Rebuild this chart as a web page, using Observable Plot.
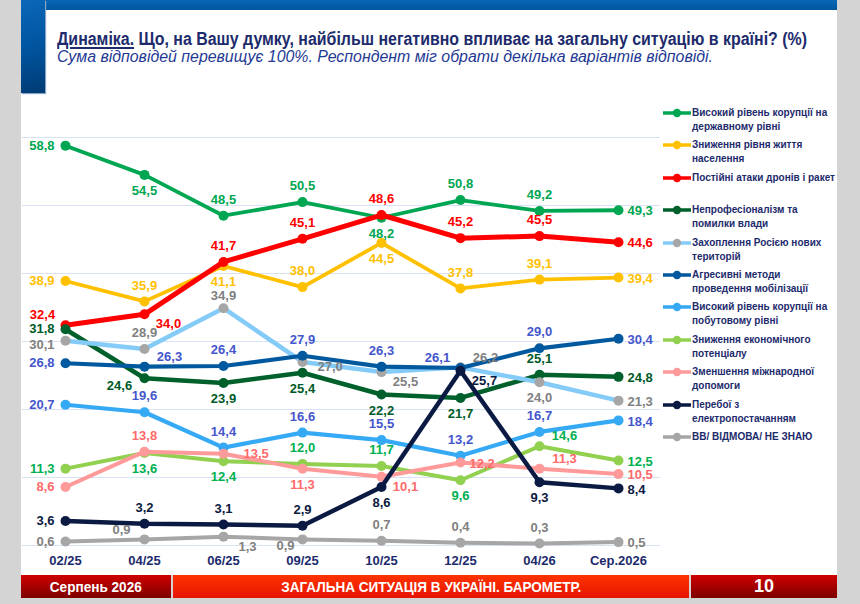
<!DOCTYPE html>
<html>
<head>
<meta charset="utf-8">
<script src="https://cdn.jsdelivr.net/npm/d3@7"></script>
<script src="https://cdn.jsdelivr.net/npm/@observablehq/plot@0.6"></script>
<style>
  html, body { margin: 0; padding: 0; }
  body { width: 860px; height: 604px; background: #d4d4d4; overflow: hidden; font-family: "Liberation Sans", Arial, sans-serif; }
  #page { position: relative; width: 860px; height: 604px; }
  .abs { position: absolute; }
  #panel { left: 21px; top: 0; width: 816px; height: 575px; background: #fff; }
  #topbar { left: 21px; top: 0; width: 816px; height: 10px; background: linear-gradient(#0a66b4, #00569f); }
  #sidebar { left: 21px; top: 0; width: 24px; height: 93px; background: linear-gradient(160deg, #0a68ba 0%, #00529c 55%, #003a72 100%); box-shadow: 1px 1px 1px #8aa6c6; }
  .fit { white-space: nowrap; display: inline-block; transform-origin: 0 50%; }
  .footer .fit { transform-origin: 50% 50%; }
  #title { left: 57px; top: 29px; font: bold 18px "Liberation Sans Narrow", "Arial Narrow", "Liberation Sans", Arial, sans-serif; color: #1d2b6c; }
  #title u { text-decoration-thickness: 2px; text-underline-offset: 2px; }
  #subtitle { left: 57px; top: 48px; font: italic 16px "Liberation Sans Narrow", "Arial Narrow", "Liberation Sans", Arial, sans-serif; color: #1f3a94; }
  #chart { left: 0; top: 0; }
  .footer { top: 575px; height: 23px; color: #fff; font: bold 15px "Liberation Sans Narrow", "Arial Narrow", "Liberation Sans", Arial, sans-serif; display: flex; align-items: center; justify-content: center; }
  #f1 { left: 21px; width: 150px; background: linear-gradient(#cf0000, #7c0000); }
  #f2 { left: 173px; width: 516px; background: linear-gradient(#ff3300, #e61400); }
  #f3 { left: 691px; width: 146px; background: linear-gradient(#cf0000, #7c0000); font-size: 18px; }
  .leg { position: absolute; left: 663px; width: 180px; }
  .leg svg { position: absolute; left: 0; top: 0; }
  .leg div { position: absolute; left: 29px; top: -7px; font: bold 10px "Liberation Sans", Arial, sans-serif; color: #1d2b6c; line-height: 14px; white-space: pre; }
</style>
</head>
<body>
<div id="page">
  <div id="panel" class="abs"></div>
  <div id="topbar" class="abs"></div>
  <div id="sidebar" class="abs"></div>
  <div id="title" class="abs"><span class="fit" id="titleText"><u>Динаміка.</u> Що, на Вашу думку, найбільш негативно впливає на загальну ситуацію в країні? (%)</span></div>
  <div id="subtitle" class="abs"><span class="fit" id="subText">Сума відповідей перевищує 100%. Респондент міг обрати декілька варіантів відповіді.</span></div>
  <div id="chart" class="abs"></div>
  <div id="legend"></div>
  <div id="f1" class="abs footer"><span class="fit" id="ft1">Серпень 2026</span></div>
  <div id="f2" class="abs footer"><span class="fit" id="ft2">ЗАГАЛЬНА СИТУАЦІЯ В УКРАЇНІ. БАРОМЕТР.</span></div>
  <div id="f3" class="abs footer"><span>10</span></div>
</div>
<script>
// ---------------- DATA ----------------
const periods = ["02/25", "04/25", "06/25", "09/25", "10/25", "12/25", "04/26", "Сер.2026"];

const seriesNames = [
  "Високий рівень корупції на\nдержавному рівні",
  "Зниження рівня життя\nнаселення",
  "Постійні атаки дронів і ракет",
  "Непрофесіоналізм та\nпомилки влади",
  "Захоплення Росією нових\nтериторій",
  "Агресивні методи\nпроведення мобілізації",
  "Високий рівень корупції на\nпобутовому рівні",
  "Зниження економічного\nпотенціалу",
  "Зменшення міжнародної\nдопомоги",
  "Перебої з\nелектропостачанням",
  "ВВ/ ВІДМОВА/ НЕ ЗНАЮ"
];

const corruptionState   = [58.8, 54.5, 48.5, 50.5, 48.2, 50.8, 49.2, 49.3];
const livingStandards   = [38.9, 35.9, 41.1, 38.0, 44.5, 37.8, 39.1, 39.4];
const droneAttacks      = [32.4, 34.0, 41.7, 45.1, 48.6, 45.2, 45.5, 44.6];
const unprofessionalism = [31.8, 24.6, 23.9, 25.4, 22.2, 21.7, 25.1, 24.8];
const territoryLoss     = [30.1, 28.9, 34.9, 27.0, 25.5, 26.2, 24.0, 21.3];
const mobilization      = [26.8, 26.3, 26.4, 27.9, 26.3, 26.1, 29.0, 30.4];
const corruptionDaily   = [20.7, 19.6, 14.4, 16.6, 15.5, 13.2, 16.7, 18.4];
const economicDecline   = [11.3, 13.6, 12.4, 12.0, 11.7, 9.6, 14.6, 12.5];
const intlAidDecline    = [8.6, 13.8, 13.5, 11.3, 10.1, 12.2, 11.3, 10.5];
const powerOutages      = [3.6, 3.2, 3.1, 2.9, 8.6, 25.7, 9.3, 8.4];
const dontKnow          = [0.6, 0.9, 1.3, 0.9, 0.7, 0.4, 0.3, 0.5];

const seriesValues = [corruptionState, livingStandards, droneAttacks, unprofessionalism, territoryLoss,
  mobilization, corruptionDaily, economicDecline, intlAidDecline, powerOutages, dontKnow];

// ---------------- STYLE ----------------
const lineColors  = ["#00a651", "#ffc000", "#ff0000", "#00602b", "#85cbf8", "#00599e", "#36a9f5", "#92d050", "#ff9a9a", "#0b1a42", "#a6a6a6"];
const dotColors   = ["#00a651", "#ffc000", "#ff0000", "#00602b", "#a6a6a6", "#00599e", "#36a9f5", "#92d050", "#ff9a9a", "#0b1a42", "#a6a6a6"];
const labelColors = ["#00a651", "#ffc000", "#ff0000", "#005a28", "#7f7f7f", "#4456cc", "#4456cc", "#00b050", "#ff6a6a", "#0b1a42", "#808080"];
const lineWidths  = [3.8, 3.8, 5, 4.5, 4.5, 4.2, 4.2, 4, 4, 4.5, 4];

// label placement codes per point (layout only)
const labelSides = [
  ["l", "b", "t", "t", "b", "t", "t", "r"],
  ["l", "t", "b", "t", "b", "t", "t", "r"],
  ["tl", "br", "t", "t", "t", "t", "t", "r"],
  ["l", "bl", "b", "b", "b", "b", "t", "r"],
  ["l2", "t", "t2", "r3", "br", "tr", "b", "r"],
  ["l", "tr", "t", "t", "t", "tl", "t", "r"],
  ["l", "t", "t", "t", "t", "t", "t", "r"],
  ["l", "b", "b", "t", "t", "b", "tr", "r"],
  ["l", "t", "rr", "b", "br", "r", "tr", "r"],
  ["l", "t", "t", "t", "b", "br", "b", "r"],
  ["l", "tl", "br", "bl2", "t", "t", "t", "r"]
];
const sideOffsets = {
  t: {dx: 0, dy: -16, anchor: "middle"},
  t2: {dx: 0, dy: -12, anchor: "middle"},
  b: {dx: 0, dy: 16, anchor: "middle"},
  l: {dx: -11, dy: 0, anchor: "end"},
  l2: {dx: -11, dy: 4, anchor: "end"},
  r: {dx: 9, dy: 1, anchor: "start"},
  rr: {dx: 20, dy: 0, anchor: "start"},
  r3: {dx: 15, dy: 5, anchor: "start"},
  tl: {dx: -23, dy: -10, anchor: "middle"},
  tr: {dx: 25, dy: -10, anchor: "middle"},
  bl: {dx: -25, dy: 8, anchor: "middle"},
  bl2: {dx: -17, dy: 6, anchor: "middle"},
  br: {dx: 24, dy: 10, anchor: "middle"}
};

// ---------------- BUILD ----------------
const fmt = v => v.toFixed(1).replace(".", ",");
const marks = [];
marks.push(Plot.ruleY([0, 10, 20, 30, 40, 50, 60], {stroke: "#d9e1f4", strokeWidth: 1.2}));

const allData = seriesValues.map((vals, si) => vals.map((v, pi) => ({
  series: si, period: periods[pi], value: v, label: fmt(v), side: labelSides[si][pi]
})));

allData.forEach((data, si) => {
  marks.push(Plot.line(data, {x: "period", y: "value", stroke: lineColors[si], strokeWidth: lineWidths[si], strokeLinejoin: "round", curve: "linear"}));
  marks.push(Plot.dot(data, {x: "period", y: "value", r: 5, fill: dotColors[si], stroke: "none"}));
});
allData.forEach((data, si) => {
  for (const [code, off] of Object.entries(sideOffsets)) {
    const sub = data.filter(d => d.side === code);
    if (!sub.length) continue;
    marks.push(Plot.text(sub, {x: "period", y: "value", text: "label", dx: off.dx, dy: off.dy, textAnchor: off.anchor,
      fill: labelColors[si], fontSize: 13, fontWeight: "bold"}));
  }
});

marks.push(Plot.axisX({tickSize: 0, tickPadding: 10, fontSize: 13, fontWeight: "bold", fill: "#1d2b6c", label: null}));

const chart = Plot.plot({
  width: 660,
  height: 575,
  marginTop: 137,
  marginBottom: 30,
  marginLeft: 22,
  marginRight: 0,
  style: {fontFamily: "'Liberation Sans', Arial, sans-serif", background: "transparent", overflow: "visible"},
  x: {type: "point", domain: periods, padding: 0.5},
  y: {domain: [0, 60], axis: null},
  marks
});
document.getElementById("chart").appendChild(chart);

// legend
const legend = document.getElementById("legend");
seriesNames.forEach((name, i) => {
  const item = document.createElement("div");
  item.className = "leg";
  item.style.top = (113 + i * 32.4) + "px";
  item.innerHTML = `<svg width="30" height="10" style="top:-5px" viewBox="0 0 30 10">
      <line x1="0" y1="5" x2="28" y2="5" stroke="${lineColors[i]}" stroke-width="3.5"/>
      <circle cx="14" cy="5" r="4.2" fill="${dotColors[i]}"/></svg>`;
  const t = document.createElement("div");
  t.textContent = name;
  item.appendChild(t);
  legend.appendChild(item);
});

// fit text widths
function fit(id, w) {
  const el = document.getElementById(id);
  const r = el.getBoundingClientRect().width;
  if (r > 0) el.style.transform = `scaleX(${w / r})`;
}
fit("titleText", 750);
fit("subText", 656);
fit("ft1", 92);
fit("ft2", 300);
</script>
</body>
</html>
